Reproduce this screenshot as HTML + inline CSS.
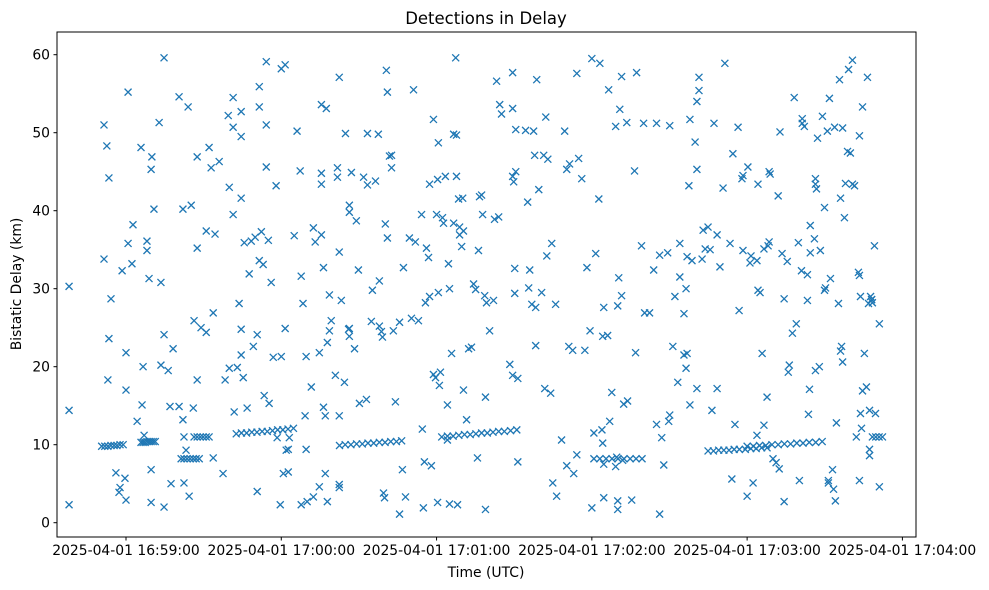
<!DOCTYPE html>
<html><head><meta charset="utf-8"><style>
html,body{margin:0;padding:0;background:#fff;}
svg{display:block;font-family:"DejaVu Sans","Liberation Sans",sans-serif;}
</style></head><body>
<svg id="chart" width="989" height="590" viewBox="0 0 989 590" xmlns="http://www.w3.org/2000/svg">
<text x="486" y="24" text-anchor="middle" font-size="16.5">Detections in Delay</text>
<g id="plot"></g>
<rect x="57" y="32" width="859" height="505" fill="none" stroke="#000" stroke-width="1"/>
<g id="xaxis"></g>
<g id="yaxis"></g>
<text x="486" y="577" text-anchor="middle" font-size="13.9">Time (UTC)</text>
<text transform="translate(21,284) rotate(-90)" text-anchor="middle" font-size="13.9">Bistatic Delay (km)</text>
</svg>
<script>
// seconds after 2025-04-01 16:59:00 UTC
const timesScatter = [-22,-22,-22,-8.5,-8.5,-7.4,-6.6,-5.8,-7,-6.6,-3.9,-2.7,-2.3,-1.5,-0.4,0,0.8,0.8,0,0,2.3,2.7,4.3,5.8,6.2,6.6,7,8.1,8.1,8.9,9.7,9.7,10,9.7,10.8,12.8,13.5,13.5,14.7,14.7,14.7,16.3,17,18.2,17.4,20.5,20.5,22,22,22.4,22.4,23.2,24,24.4,25.2,26,26.3,27.5,27.5,27.5,29,31,31,32.1,32.9,33.7,33.7,34.4,36,37.5,38.3,39.5,39.9,39.9,41.4,41.4,41.4,41.8,43,43.7,44.5,44.5,44.5,44.5,44.5,45.3,45.7,46.8,47.6,48.4,49.2,49.9,50.7,50.7,51.5,51.5,51.5,52.3,53,53.4,54.2,54.2,54.2,55,55.3,56.1,56.9,58,58.4,59.6,60,60,60.8,61.5,61.5,61.9,62.7,63.1,62.7,65,66.1,67.3,67.7,68.4,67.7,69.2,69.6,69.6,70,71.6,72.4,73.1,72.4,74.7,74.7,75.5,75.5,75.5,75.5,76.3,76.3,77,77.4,77,77.8,77.8,78.6,78.6,79.3,80.9,81.7,81.7,82.4,82.4,82.4,82.4,82.4,83.2,84.4,84.8,86,86.3,86.3,86.3,86.3,87.1,88.3,89,89.8,90.2,91.8,92.9,93.3,93.3,94.8,95.2,96.4,97.5,97.9,97.9,98.7,99.1,99.5,99.9,100.2,101,100.6,101,101.8,102.6,102.6,103.3,104.1,105.7,105.7,106.8,107.2,108,109.5,110.3,111.1,111.8,113,114.2,114.5,114.9,115.3,115.7,116.1,116.9,117.3,117.3,118,118.8,118.8,119.6,120,120.4,120.4,120.7,120.7,121.1,121.5,122.3,122.7,123.4,124.2,124.2,124.6,125,125,125.8,126.6,126.6,127.4,127.7,127.7,128.1,128.5,128.9,128.9,129.7,130.1,130.4,130.4,131.6,132.4,133.5,134.3,135.1,135.8,136.2,136.6,137.4,137.8,138.6,138.9,138.9,139.3,140.5,142,142.4,143.2,144,145.1,144.4,148.3,149.4,149.4,149.4,149.4,149.8,150.2,150.2,150.6,150.6,151.4,151.4,154.4,155.2,155.6,156,156.8,157.5,157.9,158.3,158.3,158.7,159.5,160.6,161.4,161.8,162.2,162.6,163,164.1,164.5,164.9,166,166.4,168.3,169.5,170.3,170.3,171.1,171.4,172.6,173,174.2,174.2,174.9,176.1,177.3,178.1,179.3,180,180,180.8,181.5,182.7,183.1,183.9,184.2,184.2,184.6,184.6,184.6,186.1,186.5,186.9,187.7,189.2,189.2,190,190,189.6,190,190.4,190.8,191.5,191.5,191.9,192.3,193.5,193.8,195.4,196.5,196.9,197.3,199.2,200,200.4,202.3,203.9,205,205,206.2,206.2,207,207.8,209.3,209.7,210.1,210.1,211.3,212.1,213.2,214,214,215.6,216.4,216.8,215.6,216.4,216.8,217.5,217.9,217.9,218.7,219.9,220.6,220.6,221.4,220.6,221.4,222.6,223,223.8,224.9,225.7,226.4,227.2,228.4,228.4,229.5,230.7,231.4,233.4,234.1,234.5,235.3,236.5,236.9,238,238.4,238.4,240,240.3,241.5,241.1,242.3,243.8,243.8,244.2,244.2,245,245.8,246.5,246.5,247.7,248.1,248.5,248.5,248.9,250,251.2,252,252.4,252.7,253.5,254.3,254.3,255.5,255.9,256.3,257.5,258.2,259,259.8,260.2,261,261.3,261.3,262.1,263.3,263.3,263.7,264.1,264.4,264.4,266,266.4,266.4,266.4,266.8,267.2,267.9,268.3,269.1,269.9,269.9,270.3,271,271.4,271.4,271.8,272.2,273,273.4,273.8,274.1,274.5,275.3,275.7,276.1,276.1,276.5,276.9,276.9,277.6,278,278.8,279.2,279.9,280.7,280.7,281.5,282.2,283,283.4,283.4,283.4,283.8,284.2,284.6,283.8,284.6,285.3,286.1,286.5,286.9,287.3,287.3,287.3,287.7,288.1,288.1,288.4,289.2,289.6,291.1,291.1];
const delaysScatter = [14.4,30.3,2.3,33.8,51,48.3,44.2,28.7,18.3,23.6,6.4,3.9,4.5,32.3,5.7,2.9,55.2,35.8,21.8,17,33.2,38.2,13,48.1,15.1,20,11.2,36.1,34.9,31.3,6.8,2.6,46.9,45.3,40.2,51.3,30.8,20.2,59.6,24.1,2,19.5,14.9,22.3,5,54.6,14.9,40.2,13.2,11,5.1,9.3,53.3,3.4,40.7,14.7,25.9,18.3,35.2,46.9,25,24.4,37.4,48.1,45.5,26.9,8.3,37,46.3,6.3,18.3,52.2,19.8,43,50.7,39.5,54.5,14.2,19.9,28.1,49.5,52.7,41.6,24.8,21.5,18.6,35.9,14.7,31.9,36.1,22.6,36.6,24.1,4,55.9,53.3,33.6,37.3,33.1,16.3,59.1,51,45.6,36.2,15.3,30.8,21.2,43.2,10.9,2.3,21.3,58.2,6.3,58.7,24.9,9.3,9.4,10.9,6.5,36.8,50.2,45.1,31.6,28.1,2.3,13.7,21.3,9.4,2.7,17.4,37.8,36,3.3,21.8,4.6,36.9,44.8,43.4,53.6,14.8,32.7,13.7,53.1,6.3,2.7,23.1,24.6,29.2,25.9,18.9,45.5,44.3,57.1,34.7,13.7,4.9,4.5,28.5,18,49.9,24.8,24.9,23.9,39.8,40.7,44.9,22.3,38.7,32.4,15.3,44.3,15.8,49.9,43.3,25.8,29.8,43.8,49.8,31,25.2,24.5,23.8,3.8,3.2,38.3,36.5,58,55.2,47,47.1,45.5,24.6,15.5,25.7,1.1,6.8,32.7,3.3,36.5,26.2,55.5,36,25.9,39.5,12,1.9,7.8,28.2,35.2,34,43.4,29,7.3,51.7,19,18.6,39.5,2.6,44,48.7,29.5,17.6,19.3,39.1,38.4,44.4,15.1,10.6,33.2,30,2.4,21.7,38.4,49.8,59.6,44.4,49.7,2.3,41.5,36.9,37.9,35.4,41.6,17,37.4,13.2,22.3,22.5,30.6,29.9,8.3,34.9,41.8,42,39.5,29.1,16.1,1.7,28.2,24.6,28.5,38.9,56.6,39.2,52.4,53.6,20.3,18.9,57.7,53.1,44.4,43.7,29.4,32.6,50.4,45,18.5,7.8,50.3,41.1,30.1,32.4,28,50.2,47.1,22.7,27.6,56.8,42.7,29.5,47.1,17.2,52,34.2,46.6,16.6,35.8,5.1,28,3.4,10.6,50.2,45.3,7.3,22.6,46,22.1,6.3,8.7,57.6,46.7,44.1,22.1,32.7,24.6,1.9,59.5,11.5,34.5,41.5,58.9,11.9,10.2,23.9,27.6,3.2,7.5,24,55.5,13,16.7,7.2,50.8,1.7,2.8,8.4,27.8,31.4,53,57.2,29.1,8,15.2,51.3,15.6,2.9,45.1,21.8,57.7,35.5,51.2,26.9,26.9,32.4,12.6,51.2,34.3,1.1,10.9,7.4,34.6,13,50.9,13.8,22.6,29,18,31.5,35.8,26.8,19.8,34.1,21.5,30,21.7,43.2,15.1,51.7,33.6,48.8,45.3,17.2,55.4,54,57.1,33.8,37.5,35.1,37.9,35,14.4,51.2,17.2,36.9,32.8,42.9,58.9,35.8,5.6,47.3,12.6,50.7,27.2,44.1,44.5,34.9,3.4,45.6,34.2,33.3,5.1,33.6,11.2,43.4,29.8,29.5,21.7,12.5,35.1,16.1,35.5,36,45,44.7,8.2,7.7,41.9,6.9,50.1,34.5,28.7,2.7,33.5,19.3,20.2,24.3,54.5,25.5,35.9,5.4,32.3,51.2,51.8,50.8,28.5,31.8,13.9,17.1,34.6,38.1,36.4,44.1,43.4,19.5,42.8,49.3,20,34.9,52.1,29.8,40.4,30.1,50.2,5.4,5.1,54.4,31.3,6.8,4.3,50.7,2.8,12.8,28.1,56.8,41.6,22,22.6,20.6,50.6,39.1,43.5,47.6,58.1,47.4,43.4,59.3,43.2,11,32.1,5.4,49.6,31.7,14,12.1,16.9,29,53.3,21.7,17.4,57.1,28.1,14.4,8.6,9.4,29,28.6,28.6,28.2,35.5,14,4.6,25.5,31];
const timesTracks = [-9.4,-8.2,-7,-5.8,-4.6,-3.5,-2.3,-1.1, 5.8,6.6,7.4,8.1,8.9,9.7,10.5,11.3, 21.3,22.4,23.6,24.8,26,27.1,28.3, 26.3,27.5,28.7,29.8,31,32.1, 42.6,44.6,46.6,48.6,50.6,52.6,54.6,56.6,58.6,60.6,62.6,64.7, 82.5,84.7,86.9,89.1,91.3,93.5,95.7,97.9,100.1,102.3,104.5,106.5, 122,124.2,126.4,128.6,130.8,133,135.2,137.4,139.6,141.8,144,146.2,148.6,151, 180.8,183.1,185.5,187.8,190.1,192.4,194.8,197.1,199.4, 224.9,227,229,231,233,235,237,239.3,241.4,243.5,245.6,247.7, 240,242.4,244.8,247.2,249.6,252,254.4,256.8,259.2,261.6,264,266.5,269, 288.4,289.7,291,292.3];
const delaysTracks = [9.8,9.8,9.8,9.9,9.9,9.9,10,10, 10.3,10.3,10.3,10.4,10.4,10.4,10.4,10.4, 8.2,8.2,8.2,8.2,8.2,8.2,8.2, 11,11,11,11,11,11, 11.4,11.5,11.5,11.6,11.6,11.7,11.7,11.8,11.9,11.9,12,12.1, 9.9,10,10,10.1,10.1,10.2,10.2,10.3,10.3,10.4,10.4,10.5, 11,11.1,11.1,11.2,11.3,11.3,11.4,11.5,11.5,11.6,11.7,11.7,11.8,11.9, 8.2,8.2,8.2,8.2,8.2,8.2,8.2,8.2,8.2, 9.2,9.2,9.3,9.3,9.3,9.4,9.4,9.4,9.5,9.5,9.6,9.6, 9.8,9.8,9.9,9.9,10,10,10.1,10.1,10.2,10.2,10.3,10.3,10.4, 11,11,11,11];
const xTickSeconds = [0,60,120,180,240,300];
const xTickLabels = ["2025-04-01 16:59:00","2025-04-01 17:00:00","2025-04-01 17:01:00","2025-04-01 17:02:00","2025-04-01 17:03:00","2025-04-01 17:04:00"];
const yTickValues = [0,10,20,30,40,50,60];

const NS='http://www.w3.org/2000/svg';
function xScale(t){return 126+t*2.588;}
function yScale(d){return 522.7-d*7.8;}
function mk(tag,attrs){const e=document.createElementNS(NS,tag);for(const k in attrs)e.setAttribute(k,attrs[k]);return e;}

const plot=document.getElementById('plot');
function drawX(t,d){
  const x=xScale(t),y=yScale(d),r=3.5;
  const p=mk('path',{d:`M${x-r},${y-r}L${x+r},${y+r}M${x-r},${y+r}L${x+r},${y-r}`,stroke:'#1f77b4','stroke-width':'1.3',fill:'none'});
  
  
  plot.appendChild(p);
}
for(let i=0;i<timesScatter.length;i++)drawX(timesScatter[i],delaysScatter[i]);
for(let i=0;i<timesTracks.length;i++)drawX(timesTracks[i],delaysTracks[i]);

const xa=document.getElementById('xaxis');
xTickSeconds.forEach((s,i)=>{
  const x=xScale(s);
  const tk=mk('line',{x1:x,x2:x,y1:537,y2:540.5,stroke:'#000','stroke-width':'1'});
  
  
  xa.appendChild(tk);
  const tx=mk('text',{x:x,y:555,'text-anchor':'middle','font-size':'13.9'});
  
  
  tx.textContent=xTickLabels[i];
  xa.appendChild(tx);
});
const ya=document.getElementById('yaxis');
yTickValues.forEach(v=>{
  const y=yScale(v);
  const tk=mk('line',{x1:53.5,x2:57,y1:y,y2:y,stroke:'#000','stroke-width':'1'});
  
  
  ya.appendChild(tk);
  const tx=mk('text',{x:50,y:y+5,'text-anchor':'end','font-size':'13.9'});
  
  
  tx.textContent=v;
  ya.appendChild(tx);
});
</script>
</body></html>
